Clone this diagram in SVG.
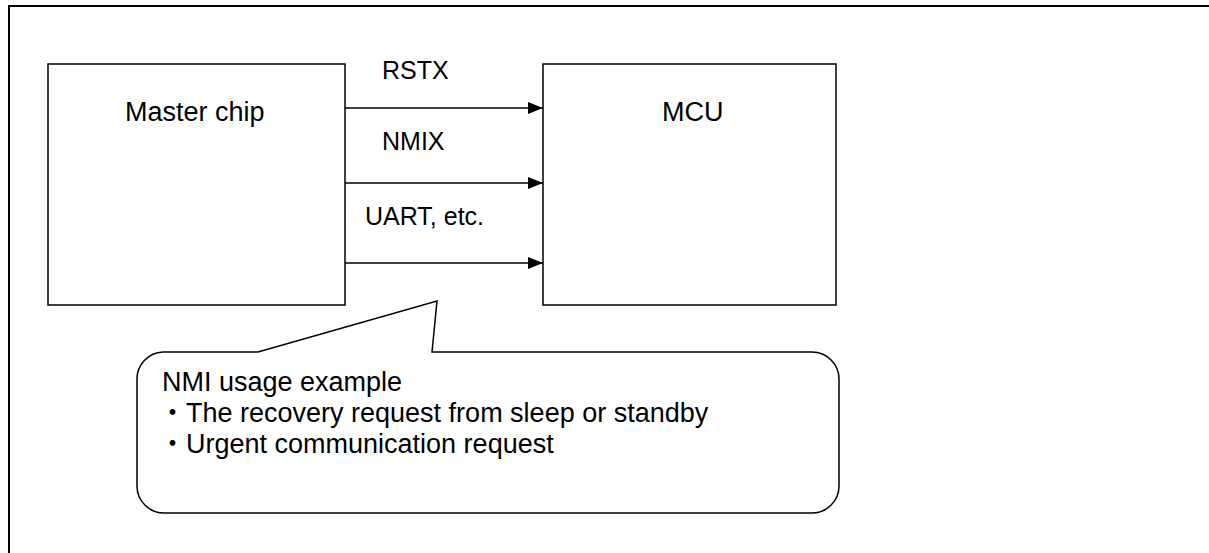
<svg xmlns="http://www.w3.org/2000/svg" width="1209" height="553" viewBox="0 0 1209 553">
  <style>
    .box { fill: #fff; stroke: #000; stroke-width: 1.5; }
    .frame { fill: none; stroke: #000; stroke-width: 2; }
    .lbl { font-family: "Liberation Sans", Arial, "Noto Sans CJK JP", sans-serif; font-size: 25px; fill: #000; }
    .big { font-size: 27px; }
    .conn { stroke: #000; stroke-width: 1.4; fill: none; marker-end: url(#arrow); }
  </style>
  <defs>
    <marker id="arrow" markerUnits="userSpaceOnUse" markerWidth="16" markerHeight="14" refX="15" refY="7" orient="auto">
      <path d="M0,1 L15,7 L0,13 Z" fill="#000"/>
    </marker>
  </defs>
  <rect width="1209" height="553" fill="#fff"/>
  <path class="frame" d="M9,560 L9,6 L1220,6"/>

  <g id="master-chip">
    <rect class="box" x="48" y="64" width="297" height="241"/>
    <text class="lbl big" x="125" y="121">Master chip</text>
  </g>

  <g id="mcu">
    <rect class="box" x="543" y="64" width="293" height="241"/>
    <text class="lbl big" x="662" y="121">MCU</text>
  </g>

  <g id="connectors">
    <line class="conn" x1="345" y1="108" x2="543" y2="108"/>
    <line class="conn" x1="345" y1="183" x2="543" y2="183"/>
    <line class="conn" x1="345" y1="263" x2="543" y2="263"/>
    <text class="lbl" x="382" y="79">RSTX</text>
    <text class="lbl" x="382" y="150">NMIX</text>
    <text class="lbl" x="365" y="225">UART, etc.</text>
  </g>

  <g id="callout">
    <path class="box" d="M163,352 L258,352 L437,301 L432,352 L812,352 A27,27 0 0 1 839,379 L839,486 A27,27 0 0 1 812,513 L164,513 A27,27 0 0 1 137,486 L137,379 A27,27 0 0 1 163,352 Z"/>
    <text class="lbl big" x="162" y="391">NMI usage example</text>
    <text class="lbl big" x="159" y="422">・The recovery request from sleep or standby</text>
    <text class="lbl big" x="159" y="453">・Urgent communication request</text>
  </g>
</svg>
